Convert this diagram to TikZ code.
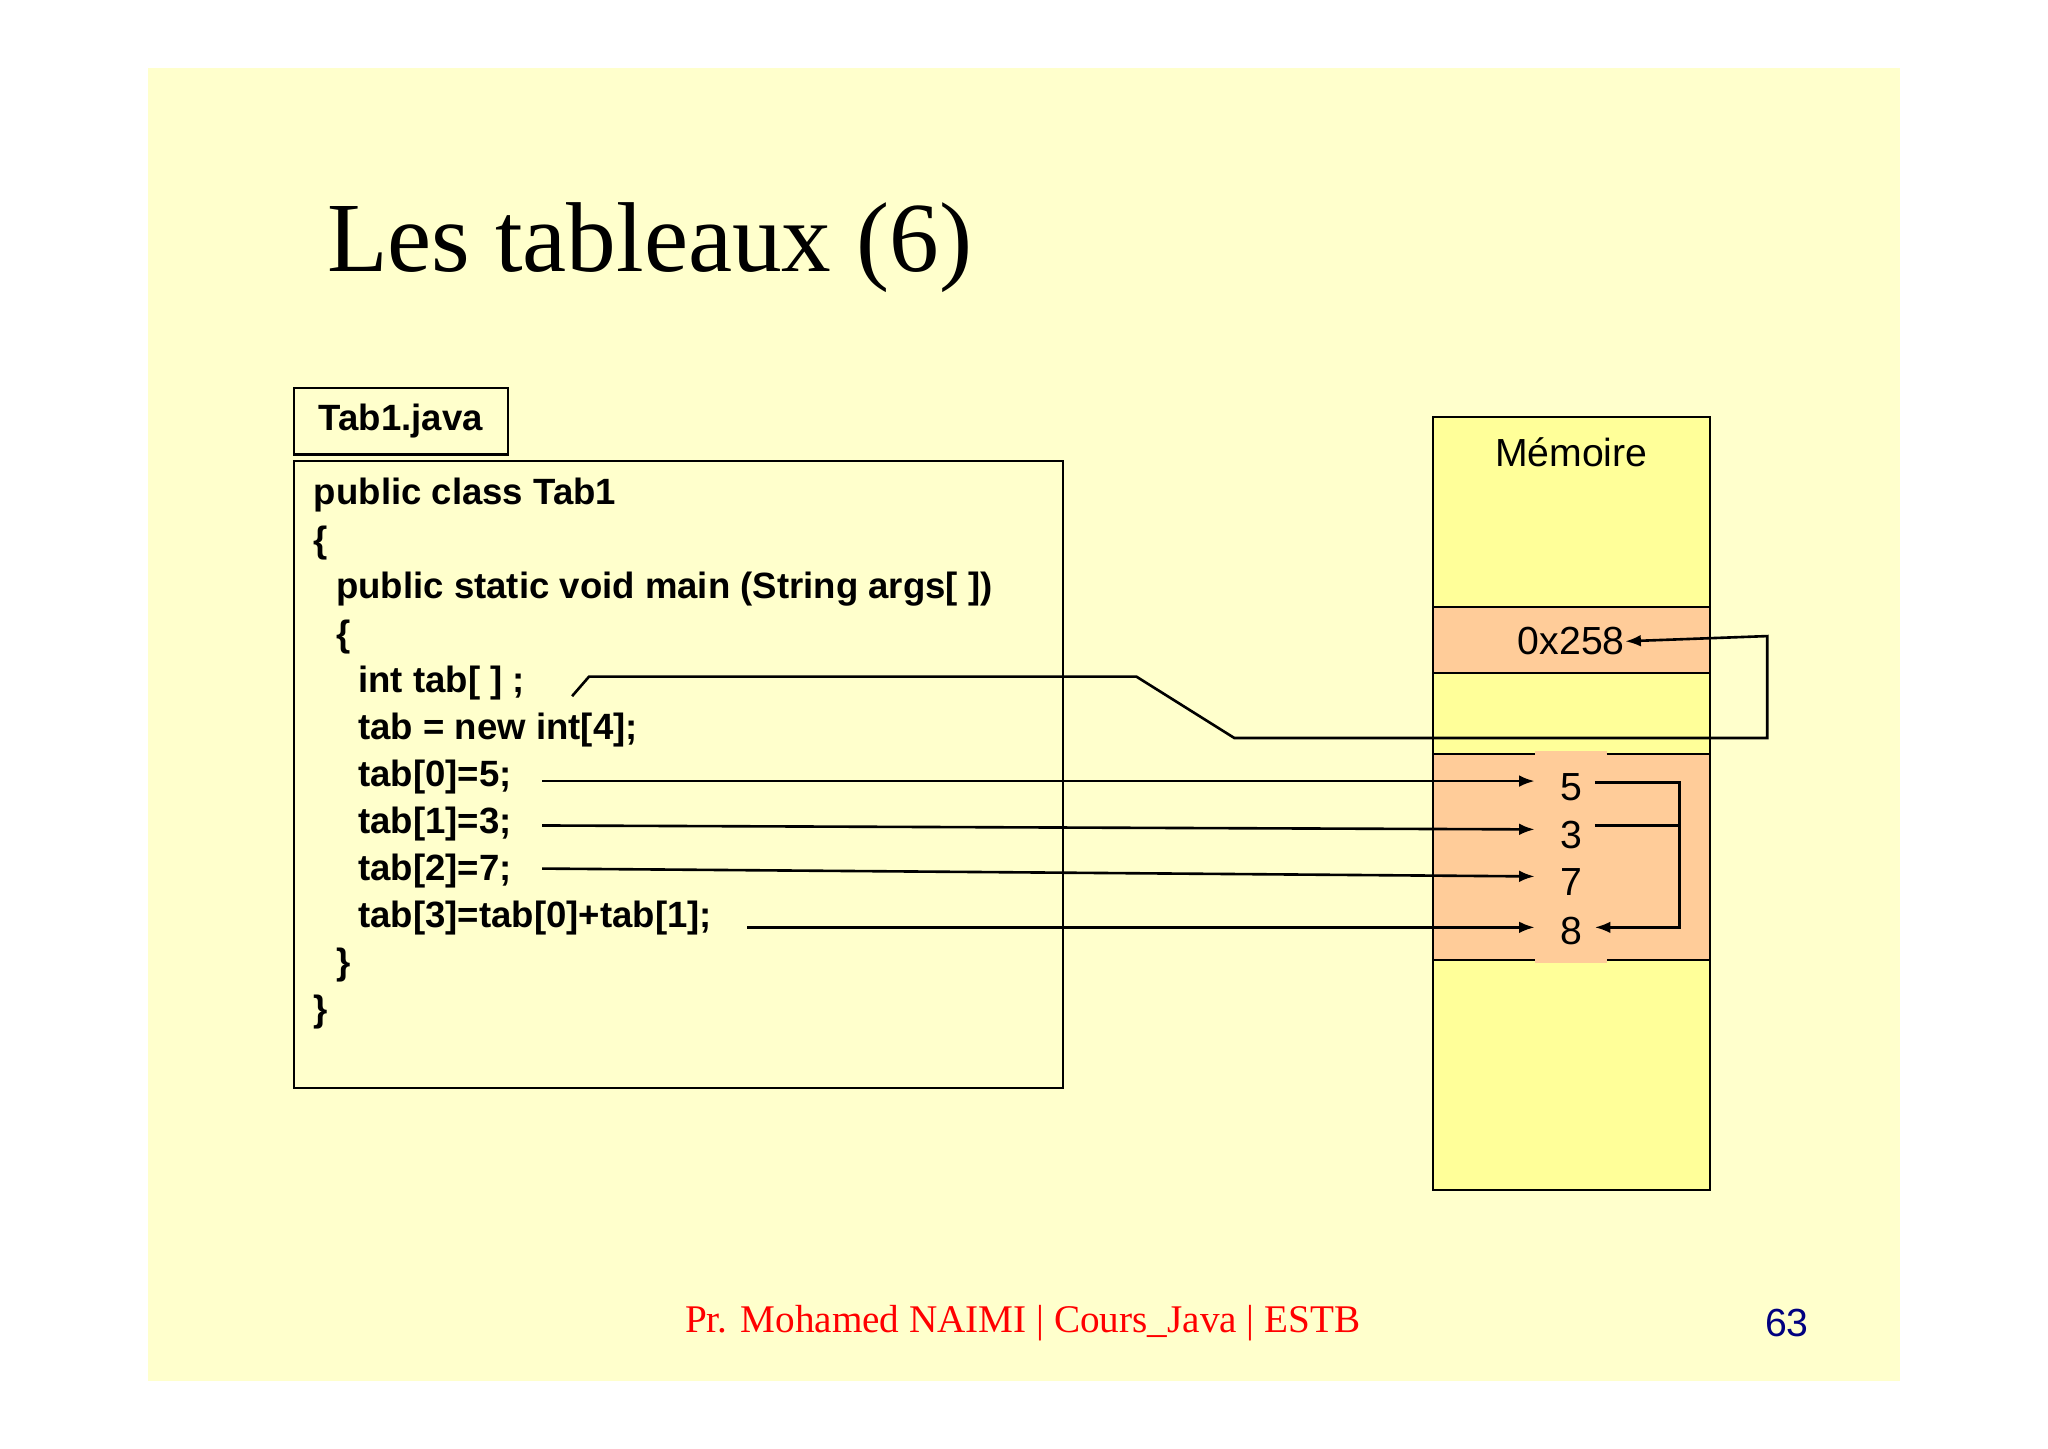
\documentclass[tikz,border=0pt]{standalone}
\usepackage{fontspec}
\setmainfont{Liberation Serif}
\setsansfont{Liberation Sans}
\usetikzlibrary{arrows.meta}
\definecolor{bgy}{HTML}{FFFFCC}
\definecolor{memy}{HTML}{FFFF99}
\definecolor{cell}{HTML}{FFCC99}
\definecolor{navy}{HTML}{000080}
\begin{document}
\begin{tikzpicture}[x=0.5pt,y=-0.5pt,
  code/.style={anchor=west,font=\sffamily\bfseries\fontsize{14}{16}\selectfont,inner sep=0},
  num/.style={font=\sffamily\fontsize{15}{17}\selectfont,inner sep=0},
  arr/.style={-{Latex[length=6pt,width=4.5pt]},line width=1pt},
  ln/.style={line width=1pt}]
\useasboundingbox (0,0) rectangle (1568,1108.7);
\fill[white] (0,0) rectangle (1568,1108.7);
\fill[bgy] (113,52) rectangle (1455,1057);
\node[anchor=base west,font=\fontsize{38}{40}\selectfont,inner sep=0] (title) at (250,208) {Les tableaux (6)};
% file label
\node[draw,line width=0.8pt,minimum width=82pt,minimum height=25.5pt,inner sep=0,font=\sffamily\bfseries\fontsize{14}{16}\selectfont] (file) at (307,322.5) {Tab1.java};
\draw[line width=0.8pt] (225,353) rectangle (814,833);
\node[code] (l1) at (240,379) {public class Tab1};
\node[code] (l2) at (240,416) {\{};
\node[code] (l3) at (257,451) {public static void main (String args[ ])};
\node[code] (l4) at (257,488) {\{};
\node[code] (l5) at (274,523) {int tab[ ] ;};
\node[code] (l6) at (274,559) {tab = new int[4];};
\node[code] (l7) at (274,595) {tab[0]=5;};
\node[code] (l8) at (274,631) {tab[1]=3;};
\node[code] (l9) at (274,667) {tab[2]=7;};
\node[code] (l10) at (274,703) {tab[3]=tab[0]+tab[1];};
\node[code] (l11) at (257,739) {\}};
\node[code] (l12) at (240,775) {\}};
% memory
\draw[fill=memy,line width=0.8pt] (1097,319) rectangle (1309,911);
\node[num] (mem) at (1203,346) {Mémoire};
\draw[fill=cell,line width=0.8pt] (1097,465) rectangle (1309,515);
\node[num] (addr) at (1203,491) {0x258};
\fill[cell] (1097,577) rectangle (1309,735);
\fill[cell] (1175,575) rectangle (1230,737);
\draw[line width=0.8pt] (1175,577) -- (1097,577) -- (1097,735) -- (1175,735);
\draw[line width=0.8pt] (1230,577) -- (1309,577) -- (1309,735) -- (1230,735);
\node[num] (v0) at (1203,603) {5};
\node[num] (v1) at (1203,639) {3};
\node[num] (v2) at (1203,675) {7};
\node[num] (v3) at (1203,713) {8};
% pointer
\coordinate (p0) at (438,533);
\draw[arr] (p0) -- (451,518) -- (870,518) -- (945,565) -- (1353,565) -- (1353,487) -- (addr.east);
% assignments
\coordinate (a0) at (415,598); \coordinate (a1) at (415,632);
\coordinate (a2) at (415,665); \coordinate (a3) at (572,710);
\draw[arr] (a0) -- (1175,598);
\draw[arr] (a1) -- (1175,635);
\draw[arr] (a2) -- (1175,671);
\draw[arr] (a3) -- (1175,710);
\draw[arr] (1221,599) -- (1286,599) -- (1286,710) -- (1221,710);
\draw[ln] (1221,632) -- (1286,632);
% footer
\node[text=red,font=\fontsize{15}{17}\selectfont] (foot) at (783,1013) {Pr. Mohamed NAIMI | Cours\_Java | ESTB};
\node[text=navy,font=\sffamily\fontsize{15}{17}\selectfont] (page) at (1368,1013) {63};
\end{tikzpicture}
\end{document}
